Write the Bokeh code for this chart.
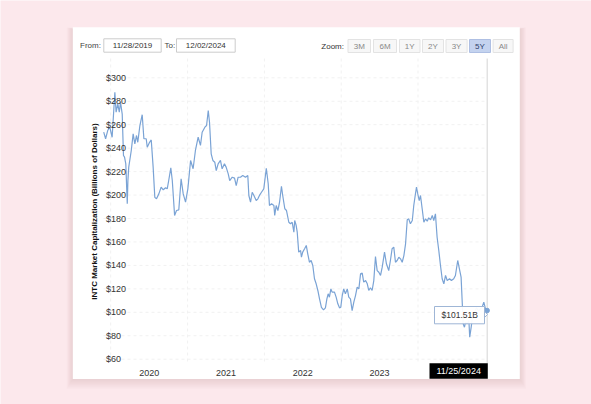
from datetime import datetime, timedelta
import math
import pandas as pd
from bokeh.plotting import figure
from bokeh.models import Range1d
from bokeh.core.properties import value
from bokeh.embed import file_html
from bokeh.resources import INLINE

# ---------------- data ----------------
dates = [
    "2019-11-29", "2019-12-08", "2019-12-18", "2019-12-28", "2020-01-08", "2020-01-21", "2020-01-27",
    "2020-02-04", "2020-02-11", "2020-02-17", "2020-02-25", "2020-03-02", "2020-03-07", "2020-03-13",
    "2020-03-20", "2020-03-23", "2020-03-27", "2020-04-08", "2020-04-17", "2020-04-25", "2020-05-03",
    "2020-05-09", "2020-05-19", "2020-05-30", "2020-06-07", "2020-06-18", "2020-06-23", "2020-07-04",
    "2020-07-12", "2020-07-21", "2020-07-29", "2020-08-06", "2020-08-17", "2020-08-28", "2020-09-07",
    "2020-09-18", "2020-09-26", "2020-10-03", "2020-10-13", "2020-10-20", "2020-10-31", "2020-11-09",
    "2020-11-20", "2020-12-01", "2020-12-11", "2020-12-22", "2021-01-02", "2021-01-15", "2021-01-27",
    "2021-02-07", "2021-02-20", "2021-03-03", "2021-03-11", "2021-03-24", "2021-04-01", "2021-04-09",
    "2021-04-15", "2021-04-23", "2021-05-01", "2021-05-10", "2021-05-17", "2021-05-26", "2021-06-06",
    "2021-06-14", "2021-06-25", "2021-07-03", "2021-07-13", "2021-07-20", "2021-08-01", "2021-08-12",
    "2021-08-20", "2021-08-29", "2021-09-09", "2021-09-20", "2021-10-03", "2021-10-14", "2021-10-19",
    "2021-10-27", "2021-11-04", "2021-11-12", "2021-11-23", "2021-12-01", "2021-12-10", "2021-12-18",
    "2021-12-29", "2022-01-10", "2022-01-19", "2022-01-25", "2022-02-04", "2022-02-15", "2022-02-19",
    "2022-02-26", "2022-03-06", "2022-03-14", "2022-03-23", "2022-03-29", "2022-04-08", "2022-04-16",
    "2022-04-27", "2022-05-05", "2022-05-13", "2022-05-21", "2022-05-25", "2022-06-01", "2022-06-06",
    "2022-06-13", "2022-06-22", "2022-06-26", "2022-07-02", "2022-07-11", "2022-07-19", "2022-07-26",
    "2022-08-03", "2022-08-11", "2022-08-19", "2022-08-27", "2022-09-04", "2022-09-12", "2022-09-20",
    "2022-09-29", "2022-10-09", "2022-10-18", "2022-10-25", "2022-10-31", "2022-11-06", "2022-11-13",
    "2022-11-19", "2022-11-30", "2022-12-08", "2022-12-16", "2022-12-24", "2022-12-30", "2023-01-06",
    "2023-01-13", "2023-01-21", "2023-01-30", "2023-02-06", "2023-02-14", "2023-02-22", "2023-03-02",
    "2023-03-10", "2023-03-18", "2023-03-26", "2023-04-03", "2023-04-11", "2023-04-18", "2023-04-27",
    "2023-05-05", "2023-05-12", "2023-05-20", "2023-05-28", "2023-06-05", "2023-06-13", "2023-06-21",
    "2023-06-29", "2023-07-07", "2023-07-15", "2023-07-26", "2023-08-04", "2023-08-15", "2023-08-23",
    "2023-08-31", "2023-09-08", "2023-09-16", "2023-09-24", "2023-10-02", "2023-10-10", "2023-10-18",
    "2023-10-26", "2023-11-03", "2023-11-11", "2023-11-18", "2023-11-26", "2023-12-05", "2023-12-12",
    "2023-12-20", "2023-12-25", "2023-12-31", "2024-01-07", "2024-01-13", "2024-01-21", "2024-01-29",
    "2024-02-06", "2024-02-14", "2024-02-21", "2024-03-01", "2024-03-09", "2024-03-16", "2024-03-24",
    "2024-04-01", "2024-04-09", "2024-04-17", "2024-04-25", "2024-05-03", "2024-05-11", "2024-05-19",
    "2024-05-30", "2024-06-08", "2024-06-19", "2024-06-27", "2024-07-08", "2024-07-16", "2024-07-24",
    "2024-07-29", "2024-08-03", "2024-08-09", "2024-08-14", "2024-08-22", "2024-08-30", "2024-09-03",
    "2024-09-10", "2024-09-16", "2024-09-26", "2024-10-05", "2024-10-15", "2024-10-24", "2024-10-31",
    "2024-11-09", "2024-11-17", "2024-11-25",
]
market_cap = [
    253.6, 248.0, 255.0, 258.0, 249.3, 287.7, 270.7, 277.8, 270.7, 279.0, 269.0, 233.7, 232.3, 226.6,
    192.5, 212.4, 223.8, 238.0, 252.2, 243.7, 250.8, 245.0, 259.3, 268.5, 248.0, 248.0, 240.8, 245.0,
    247.0, 223.8, 198.0, 196.8, 201.0, 206.7, 204.5, 206.2, 205.3, 212.4, 223.2, 212.4, 182.6, 186.8,
    187.4, 213.9, 201.0, 194.0, 205.3, 229.5, 222.4, 238.0, 249.3, 242.3, 253.6, 257.9, 259.3, 272.1,
    262.1, 235.2, 229.5, 228.0, 220.9, 226.6, 229.5, 222.4, 226.6, 223.8, 218.1, 212.4, 215.2, 214.4,
    208.1, 215.2, 215.2, 216.7, 215.2, 216.7, 199.6, 193.9, 202.4, 199.6, 195.3, 196.8, 200.2, 202.4,
    205.3, 222.9, 209.6, 191.1, 192.5, 191.1, 182.6, 191.1, 186.8, 193.9, 207.5, 199.6, 188.3, 186.8,
    176.8, 175.5, 176.8, 168.3, 178.3, 174.0, 168.3, 151.3, 152.7, 147.0, 151.3, 154.2, 157.0, 149.9,
    142.7, 144.2, 139.9, 128.6, 124.3, 118.6, 111.5, 104.3, 102.1, 103.8, 111.5, 115.8, 112.9, 120.0,
    117.2, 117.2, 112.9, 107.2, 103.8, 104.3, 114.3, 120.0, 115.8, 120.0, 112.9, 111.5, 101.5, 108.6,
    114.3, 121.4, 120.0, 132.8, 133.4, 125.7, 127.1, 124.3, 118.6, 120.9, 118.6, 127.1, 147.6, 135.6,
    134.2, 131.4, 138.5, 151.3, 141.4, 135.6, 144.2, 154.2, 155.6, 142.7, 144.2, 147.0, 145.6, 142.7,
    148.4, 158.4, 178.9, 179.7, 175.5, 178.3, 191.1, 201.0, 206.7, 201.0, 195.3, 199.6, 188.3, 176.8,
    179.7, 177.7, 180.6, 178.9, 182.6, 178.3, 184.0, 164.0, 152.7, 139.9, 128.6, 124.3, 131.4, 127.1,
    128.6, 127.1, 128.6, 131.4, 144.2, 137.1, 130.0, 110.0, 90.2, 87.3, 91.6, 90.2, 93.0, 78.8,
    87.3, 95.8, 100.0, 104.0, 101.0, 103.0, 104.0, 108.6, 102.9, 101.51,
]
y_ticks = [60, 80, 100, 120, 140, 160, 180, 200, 220, 240, 260, 280, 300]
year_labels = ["2020", "2021", "2022", "2023"]
year_starts = ["2020-01-01", "2021-01-01", "2022-01-01", "2023-01-01", "2024-01-01"]
from_date = "11/28/2019"
to_date = "12/02/2024"
zoom_buttons = ["3M", "6M", "1Y", "2Y", "3Y", "5Y", "All"]
active_zoom = "5Y"
y_title = "INTC Market Capitalization (Billions of Dollars)"

# ---------------- layout / style ----------------
FONT = value("Liberation Sans")
PINK = "#fce8ec"
LINE = "#7aa3d5"
W, H = 591, 404
d = pd.to_datetime(dates)
caps = market_cap

# page-pixel mapping of the chart area
x0_px, day_per_px = 103.0, 4.754
base = d[0] - pd.Timedelta(days=1)
xr = Range1d(start=base + pd.Timedelta(days=(0 - x0_px) * day_per_px),
             end=base + pd.Timedelta(days=(W - x0_px) * day_per_px))
px_per_unit, y300_px = 1.1725, 77.3
yr = Range1d(start=300 - (H - y300_px) / px_per_unit, end=300 + y300_px / px_per_unit)

p = figure(width=W, height=H, x_range=xr, y_range=yr, output_backend="svg",
           toolbar_location=None, tools="", x_axis_location=None, y_axis_location=None,
           min_border=0, background_fill_color=PINK, border_fill_color=PINK,
           outline_line_color=None)
p.extra_x_ranges = {"px": Range1d(0, W)}
p.extra_y_ranges = {"px": Range1d(H, 0)}
p.grid.visible = False
PX = dict(x_range_name="px", y_range_name="px")

# card shadow and card
CL, CR, CT, CB = 72.3, 519.3, 26.7, 378.5
for k in range(1, 10):
    p.quad(left=[CL - k * 0.7], right=[CR + k * 0.7], top=[CT - k * 0.2 + 2], bottom=[CB + k * 1.1],
           fill_color="#c4929e", fill_alpha=0.028, line_color=None, **PX)
p.quad(left=[CL], right=[CR], top=[CT], bottom=[CB], fill_color="white", line_color=None, **PX)

# plot area bounds (page px)
PL, PR, PT, PB = 103.0, 487.0, 58.0, 363.0

# grid lines
gx = pd.to_datetime(year_starts)
p.segment(x0=gx, x1=gx, y0=[PT] * len(gx), y1=[PB] * len(gx), y_range_name="px",
          line_color="#f1f1f1", line_width=1, line_dash="3 3")
p.segment(x0=[PL] * len(y_ticks), x1=[PR] * len(y_ticks), y0=y_ticks, y1=y_ticks, x_range_name="px",
          line_color="#f1f1f1", line_width=1, line_dash="3 3")

# crosshair
p.segment(x0=[d[-1]], x1=[d[-1]], y0=[PT], y1=[PB], y_range_name="px",
          line_color="#d4d4d4", line_width=1)

# series
p.line(d, caps, line_color=LINE, line_width=1.2)
p.scatter([d[-1]], [caps[-1]], size=4.5, fill_color=LINE, line_color=LINE)

# y tick labels (inside plot)
p.text(x=[105.5] * len(y_ticks), y=y_ticks, text=["$%d" % v for v in y_ticks], x_range_name="px",
       text_font=FONT, text_font_size="9px", text_color="#333333",
       text_align="left", text_baseline="middle")

# x labels centred in each year
mids = [pd.Timestamp(f"{y}-07-02") for y in year_labels]
p.text(x=mids, y=[372] * len(mids), text=year_labels, y_range_name="px",
       text_font=FONT, text_font_size="9px", text_color="#333333",
       text_align="center", text_baseline="middle")

# y axis title
p.text(x=[93.5], y=[211], text=[y_title], angle=math.pi / 2, **PX,
       text_font=FONT, text_font_size="8px", text_font_style="bold", text_color="#111111",
       text_align="center", text_baseline="middle")

# crosshair date label
p.quad(left=[429], right=[487.3], top=[362.7], bottom=[378.3], fill_color="black", line_color=None, **PX)
p.text(x=[458.2], y=[370.7], text=[d[-1].strftime("%m/%d/%Y")], **PX,
       text_font=FONT, text_font_size="9px", text_color="white",
       text_align="center", text_baseline="middle")

# tooltip
p.patch(x=[483.5, 487.0, 483.5], y=[310.5, 314.0, 317.5], fill_color="white",
        line_color="#9fb6d6", line_width=1, **PX)
p.quad(left=[434], right=[484], top=[306], bottom=[323.3], fill_color="white", fill_alpha=0.95,
       line_color="#9fb6d6", line_width=1, **PX)
p.text(x=[459.2], y=[314.8], text=["$%.2fB" % caps[-1]], **PX,
       text_font=FONT, text_font_size="8.5px", text_color="#333333",
       text_align="center", text_baseline="middle")

# range selector inputs
p.text(x=[79.5, 164.0], y=[45.2, 45.2], text=["From:", "To:"], **PX,
       text_font=FONT, text_font_size="8px", text_color="#444444",
       text_align="left", text_baseline="middle")
p.quad(left=[103.3, 176.0], right=[160.7, 234.7], top=[38.3, 38.3], bottom=[51.7, 51.7],
       fill_color="white", line_color="#cccccc", line_width=1, **PX)
p.text(x=[132.0, 205.3], y=[45.2, 45.2], text=[from_date, to_date], **PX,
       text_font=FONT, text_font_size="8px", text_color="#333333",
       text_align="center", text_baseline="middle")

# zoom buttons
p.text(x=[320.8], y=[45.5], text=["Zoom:"], **PX,
       text_font=FONT, text_font_size="8px", text_color="#333333",
       text_align="left", text_baseline="middle")
b_left = [347.5, 373.0, 399.0, 422.0, 445.5, 469.0, 492.6]
b_right = [370.0, 396.0, 419.5, 443.0, 466.6, 490.0, 512.6]
fills = ["#c4d3ef" if b == active_zoom else "#f7f7f7" for b in zoom_buttons]
lines = ["#aebfe3" if b == active_zoom else "#e3e3e3" for b in zoom_buttons]
tcols = ["#2d3e6b" if b == active_zoom else "#888888" for b in zoom_buttons]
p.quad(left=b_left, right=b_right, top=[39.0] * 7, bottom=[52.0] * 7,
       fill_color=fills, line_color=lines, line_width=1, **PX)
p.text(x=[(a + b) / 2 for a, b in zip(b_left, b_right)], y=[45.6] * 7, text=zoom_buttons, **PX,
       text_font=FONT, text_font_size="8px", text_color=tcols,
       text_align="center", text_baseline="middle")

open("out.html", "w").write(file_html(p, INLINE, "INTC Market Cap"))
